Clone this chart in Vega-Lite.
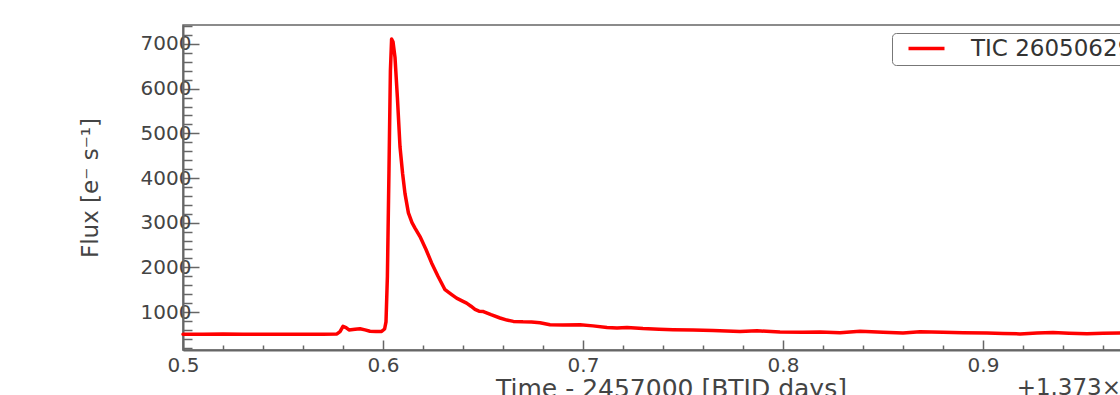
{
  "$schema": "https://vega.github.io/schema/vega-lite/v6.json",
  "autosize": {"type": "none"},
  "padding": {"left": 183, "top": 25, "right": 0, "bottom": 45},
  "width": 976,
  "height": 325,
  "background": "white",
  "config": {
    "view": {"stroke": "#666", "strokeWidth": 1.5},
    "font": "DejaVu Sans",
    "axis": {"grid": false, "labelFont": "DejaVu Sans", "titleFont": "DejaVu Sans", "labelColor": "#444", "titleColor": "#444", "domainColor": "#666", "domainWidth": 2, "tickColor": "#666", "tickWidth": 1.5, "titleFontWeight": "normal", "labelFlush": false}
  },
  "data": {"values": [
    {"t": 0.500, "f": 505, "star": "TIC 260506296"},
    {"t": 0.510, "f": 505, "star": "TIC 260506296"},
    {"t": 0.520, "f": 510, "star": "TIC 260506296"},
    {"t": 0.530, "f": 503, "star": "TIC 260506296"},
    {"t": 0.540, "f": 500, "star": "TIC 260506296"},
    {"t": 0.550, "f": 505, "star": "TIC 260506296"},
    {"t": 0.560, "f": 505, "star": "TIC 260506296"},
    {"t": 0.570, "f": 505, "star": "TIC 260506296"},
    {"t": 0.577, "f": 510, "star": "TIC 260506296"},
    {"t": 0.5785, "f": 560, "star": "TIC 260506296"},
    {"t": 0.5800, "f": 680, "star": "TIC 260506296"},
    {"t": 0.5815, "f": 650, "star": "TIC 260506296"},
    {"t": 0.5830, "f": 600, "star": "TIC 260506296"},
    {"t": 0.5860, "f": 615, "star": "TIC 260506296"},
    {"t": 0.5885, "f": 625, "star": "TIC 260506296"},
    {"t": 0.5910, "f": 600, "star": "TIC 260506296"},
    {"t": 0.5935, "f": 570, "star": "TIC 260506296"},
    {"t": 0.5965, "f": 562, "star": "TIC 260506296"},
    {"t": 0.5993, "f": 566, "star": "TIC 260506296"},
    {"t": 0.6008, "f": 620, "star": "TIC 260506296"},
    {"t": 0.6015, "f": 780, "star": "TIC 260506296"},
    {"t": 0.6022, "f": 1800, "star": "TIC 260506296"},
    {"t": 0.6030, "f": 4200, "star": "TIC 260506296"},
    {"t": 0.6037, "f": 6400, "star": "TIC 260506296"},
    {"t": 0.6043, "f": 7110, "star": "TIC 260506296"},
    {"t": 0.6050, "f": 7050, "star": "TIC 260506296"},
    {"t": 0.6060, "f": 6700, "star": "TIC 260506296"},
    {"t": 0.6072, "f": 5800, "star": "TIC 260506296"},
    {"t": 0.6085, "f": 4700, "star": "TIC 260506296"},
    {"t": 0.6098, "f": 4100, "star": "TIC 260506296"},
    {"t": 0.6110, "f": 3650, "star": "TIC 260506296"},
    {"t": 0.6127, "f": 3220, "star": "TIC 260506296"},
    {"t": 0.6145, "f": 3000, "star": "TIC 260506296"},
    {"t": 0.6160, "f": 2880, "star": "TIC 260506296"},
    {"t": 0.6185, "f": 2690, "star": "TIC 260506296"},
    {"t": 0.6215, "f": 2400, "star": "TIC 260506296"},
    {"t": 0.6243, "f": 2100, "star": "TIC 260506296"},
    {"t": 0.6275, "f": 1800, "star": "TIC 260506296"},
    {"t": 0.6310, "f": 1500, "star": "TIC 260506296"},
    {"t": 0.6340, "f": 1400, "star": "TIC 260506296"},
    {"t": 0.6368, "f": 1310, "star": "TIC 260506296"},
    {"t": 0.6395, "f": 1250, "star": "TIC 260506296"},
    {"t": 0.6418, "f": 1200, "star": "TIC 260506296"},
    {"t": 0.6440, "f": 1130, "star": "TIC 260506296"},
    {"t": 0.6460, "f": 1060, "star": "TIC 260506296"},
    {"t": 0.6480, "f": 1020, "star": "TIC 260506296"},
    {"t": 0.6502, "f": 1010, "star": "TIC 260506296"},
    {"t": 0.6540, "f": 940, "star": "TIC 260506296"},
    {"t": 0.6585, "f": 866, "star": "TIC 260506296"},
    {"t": 0.6620, "f": 820, "star": "TIC 260506296"},
    {"t": 0.6652, "f": 790, "star": "TIC 260506296"},
    {"t": 0.6700, "f": 780, "star": "TIC 260506296"},
    {"t": 0.6743, "f": 776, "star": "TIC 260506296"},
    {"t": 0.6785, "f": 760, "star": "TIC 260506296"},
    {"t": 0.6835, "f": 716, "star": "TIC 260506296"},
    {"t": 0.6900, "f": 712, "star": "TIC 260506296"},
    {"t": 0.6985, "f": 716, "star": "TIC 260506296"},
    {"t": 0.7050, "f": 690, "star": "TIC 260506296"},
    {"t": 0.7120, "f": 655, "star": "TIC 260506296"},
    {"t": 0.7170, "f": 642, "star": "TIC 260506296"},
    {"t": 0.7220, "f": 655, "star": "TIC 260506296"},
    {"t": 0.7300, "f": 630, "star": "TIC 260506296"},
    {"t": 0.7380, "f": 615, "star": "TIC 260506296"},
    {"t": 0.7450, "f": 604, "star": "TIC 260506296"},
    {"t": 0.7550, "f": 595, "star": "TIC 260506296"},
    {"t": 0.7650, "f": 585, "star": "TIC 260506296"},
    {"t": 0.7785, "f": 566, "star": "TIC 260506296"},
    {"t": 0.7870, "f": 580, "star": "TIC 260506296"},
    {"t": 0.7985, "f": 552, "star": "TIC 260506296"},
    {"t": 0.8100, "f": 545, "star": "TIC 260506296"},
    {"t": 0.8185, "f": 552, "star": "TIC 260506296"},
    {"t": 0.8285, "f": 535, "star": "TIC 260506296"},
    {"t": 0.8385, "f": 570, "star": "TIC 260506296"},
    {"t": 0.8500, "f": 550, "star": "TIC 260506296"},
    {"t": 0.8600, "f": 532, "star": "TIC 260506296"},
    {"t": 0.8685, "f": 560, "star": "TIC 260506296"},
    {"t": 0.8800, "f": 545, "star": "TIC 260506296"},
    {"t": 0.8900, "f": 535, "star": "TIC 260506296"},
    {"t": 0.9020, "f": 530, "star": "TIC 260506296"},
    {"t": 0.9100, "f": 520, "star": "TIC 260506296"},
    {"t": 0.9185, "f": 510, "star": "TIC 260506296"},
    {"t": 0.9270, "f": 530, "star": "TIC 260506296"},
    {"t": 0.9350, "f": 540, "star": "TIC 260506296"},
    {"t": 0.9430, "f": 525, "star": "TIC 260506296"},
    {"t": 0.9520, "f": 514, "star": "TIC 260506296"},
    {"t": 0.9600, "f": 525, "star": "TIC 260506296"},
    {"t": 0.9685, "f": 530, "star": "TIC 260506296"},
    {"t": 0.9760, "f": 520, "star": "TIC 260506296"},
    {"t": 0.9850, "f": 522, "star": "TIC 260506296"}
  ]},
  "resolve": {"axis": {"x": "independent", "y": "independent"}},
  "layer": [
    {
      "mark": {"type": "line", "strokeOpacity": 0},
      "encoding": {
        "x": {"field": "t", "type": "quantitative", "scale": {"domain": [0.5, 0.988], "nice": false, "zero": false},
          "axis": {"orient": "bottom", "values": [0.52,0.54,0.56,0.58,0.62,0.64,0.66,0.68,0.72,0.74,0.76,0.78,0.82,0.84,0.86,0.88,0.92,0.94,0.96,0.98], "labels": false, "domain": false, "tickSize": -5, "title": "+1.373×10³", "titleAnchor": "end", "titleFontSize": 23, "titlePadding": 26}},
        "y": {"field": "f", "type": "quantitative", "scale": {"domain": [150, 7425], "nice": false, "zero": false},
          "axis": {"orient": "left", "values": [200,400,600,800,1200,1400,1600,1800,2200,2400,2600,2800,3200,3400,3600,3800,4200,4400,4600,4800,5200,5400,5600,5800,6200,6400,6600,6800,7200,7400], "labels": false, "domain": false, "tickSize": -9, "title": null}}
      }
    },
    {
      "mark": {"type": "line", "strokeWidth": 3.5, "strokeJoin": "round", "strokeCap": "round"},
      "encoding": {
        "x": {"field": "t", "type": "quantitative", "scale": {"domain": [0.5, 0.988], "nice": false, "zero": false},
          "axis": {"orient": "bottom", "values": [0.5, 0.6, 0.7, 0.8, 0.9], "format": ".1f", "tickSize": -10, "labelFontSize": 20, "labelPadding": 15, "title": "Time - 2457000 [BTJD days]", "titleFontSize": 25, "titlePadding": 1}},
        "y": {"field": "f", "type": "quantitative", "scale": {"domain": [150, 7425], "nice": false, "zero": false},
          "axis": {"orient": "left", "values": [1000, 2000, 3000, 4000, 5000, 6000, 7000], "format": "d", "tickSize": -16, "labelFontSize": 20, "labelPadding": 8, "title": "Flux [e⁻ s⁻¹]", "titleFontSize": 23, "titlePadding": 38}},
        "color": {"field": "star", "type": "nominal", "scale": {"range": ["#ff0000"]},
          "legend": {"orient": "top-right", "title": null, "offset": 8, "symbolType": "M-2,0H2", "symbolSize": 324, "symbolStrokeWidth": 3.5, "symbolOffset": 19, "labelFontSize": 23, "labelLimit": 400, "labelFont": "DejaVu Sans", "labelColor": "#333", "labelOffset": 33, "strokeColor": "#777", "fillColor": "white", "padding": 4, "cornerRadius": 4}}
      }
    }
  ]
}
